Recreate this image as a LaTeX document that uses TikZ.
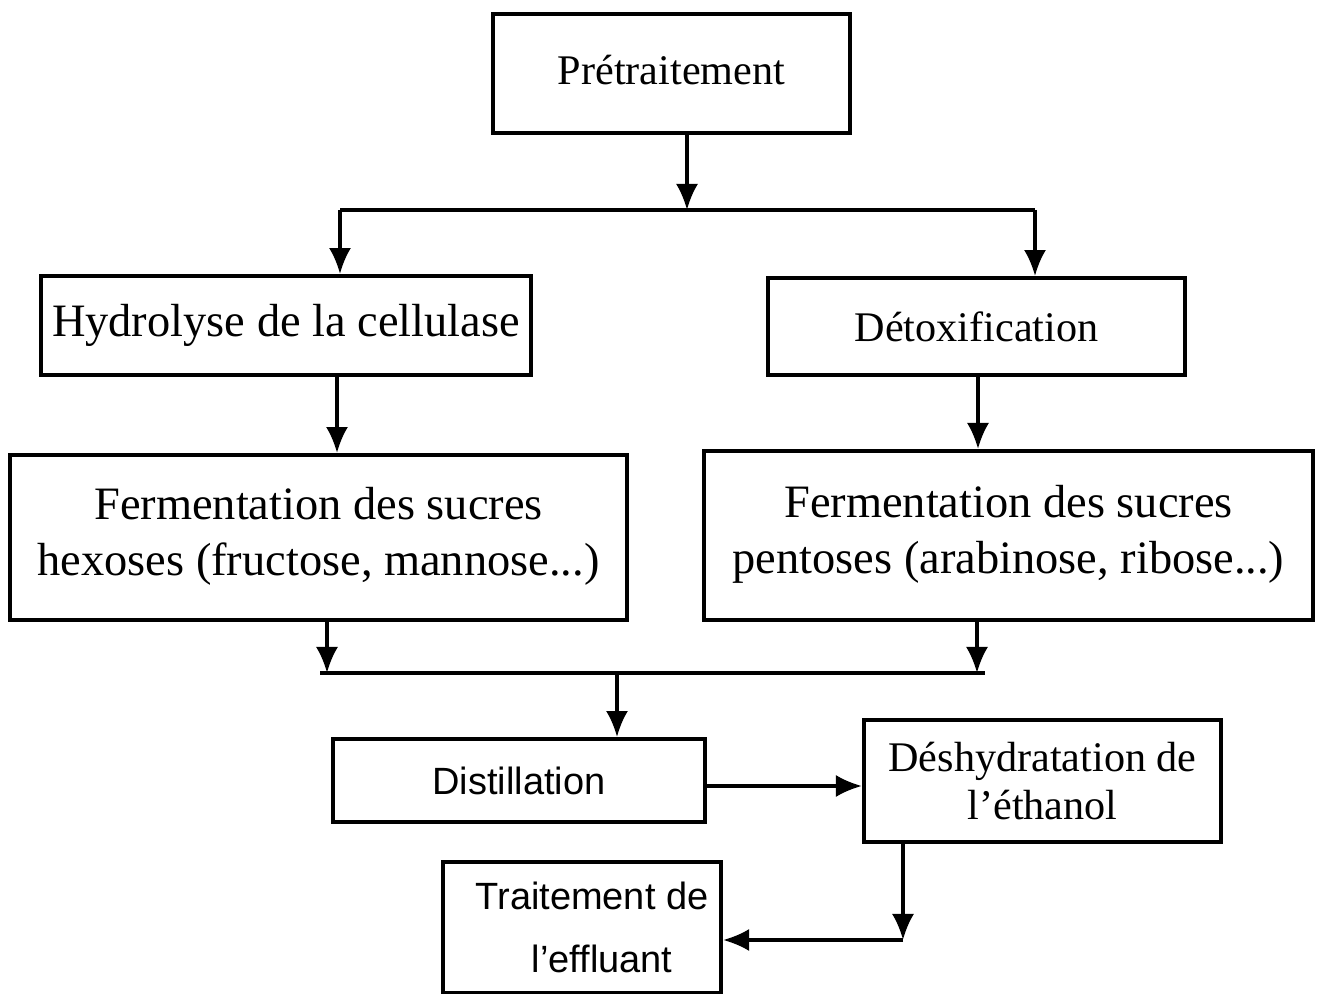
\documentclass[tikz,border=0pt]{standalone}
\usepackage{fontspec}
\setmainfont{Liberation Serif}
\setsansfont{Liberation Sans}
\usetikzlibrary{arrows.meta}
\begin{document}
\begin{tikzpicture}[x=0.01cm,y=-0.01cm,
    box/.style={draw,line width=1.1pt,inner sep=0pt,align=center},
    big/.style={font=\fontsize{13.2}{15.9}\selectfont},
    mid/.style={font=\fontsize{12}{13.6}\selectfont},
    sans/.style={font=\sffamily\fontsize{10.8}{17.9}\selectfont},
    link/.style={line width=0.9pt},
    arr/.style={link,-{Latex[length=2.6mm,width=2.2mm]}}]
    \useasboundingbox (0,0) rectangle (1317,994);
    % boxes
    \node[box,mid,minimum width=3.57cm,minimum height=1.19cm] (pre) at (671.5,73.5) {\raisebox{0.8mm}{Prétraitement}};
    \node[box,big,minimum width=4.90cm,minimum height=0.99cm] (hyd) at (286,325.5) {\raisebox{-0.5mm}{Hydrolyse de la cellulase}};
    \node[box,mid,minimum width=4.17cm,minimum height=0.97cm] (detox) at (976.5,326.5) {Détoxification};
    \node[box,big,minimum width=6.17cm,minimum height=1.65cm] (fhex) at (318.5,537.5) {Fermentation des sucres\\hexoses (fructose, mannose...)\rule[-1.2mm]{0pt}{1mm}};
    \node[box,big,minimum width=6.09cm,minimum height=1.69cm] (fpen) at (1008.5,535.5) {Fermentation des sucres\\pentoses (arabinose, ribose...)\rule[-1.2mm]{0pt}{1mm}};
    \node[box,sans,minimum width=3.72cm,minimum height=0.83cm] (dist) at (519,780.5) {Distillation};
    \node[box,mid,minimum width=3.57cm,minimum height=1.22cm] (desh) at (1042.5,781) {Déshydratation de\\l’éthanol};
    \node[box,sans,minimum width=2.78cm,minimum height=1.31cm] (trait) at (582,927.5) {\hspace*{2mm}Traitement de\\\hspace*{4mm}l’effluant};
    % junctions
    \coordinate (jtop) at (687,210);
    \coordinate (jl) at (340,210);
    \coordinate (jr) at (1035,210);
    \coordinate (hx) at (337,0);
    \coordinate (px) at (978,0);
    \coordinate (jbl) at (320,673);
    \coordinate (jbr) at (985,673);
    \coordinate (fl) at (327,673);
    \coordinate (fr) at (977,673);
    \coordinate (jbm) at (617,673);
    \coordinate (dx) at (0,786);
    \coordinate (dd) at (903,940);
    % connectors
    \draw[arr] (pre.south -| jtop) -- (jtop);
    \draw[link] (jl) -- (jr);
    \draw[arr] (jl) -- (jl |- hyd.north);
    \draw[arr] (jr) -- (jr |- detox.north);
    \draw[arr] (hyd.south -| hx) -- (fhex.north -| hx);
    \draw[arr] (detox.south -| px) -- (fpen.north -| px);
    \draw[link] (jbl) -- (jbr);
    \draw[arr] (fhex.south -| fl) -- (fl);
    \draw[arr] (fpen.south -| fr) -- (fr);
    \draw[arr] (jbm) -- (dist.north -| jbm);
    \draw[arr] (dist.east |- dx) -- (desh.west |- dx);
    \draw[arr] (desh.south -| dd) -- (dd);
    \draw[arr] (dd) -- (trait.east |- dd);
\end{tikzpicture}
\end{document}
